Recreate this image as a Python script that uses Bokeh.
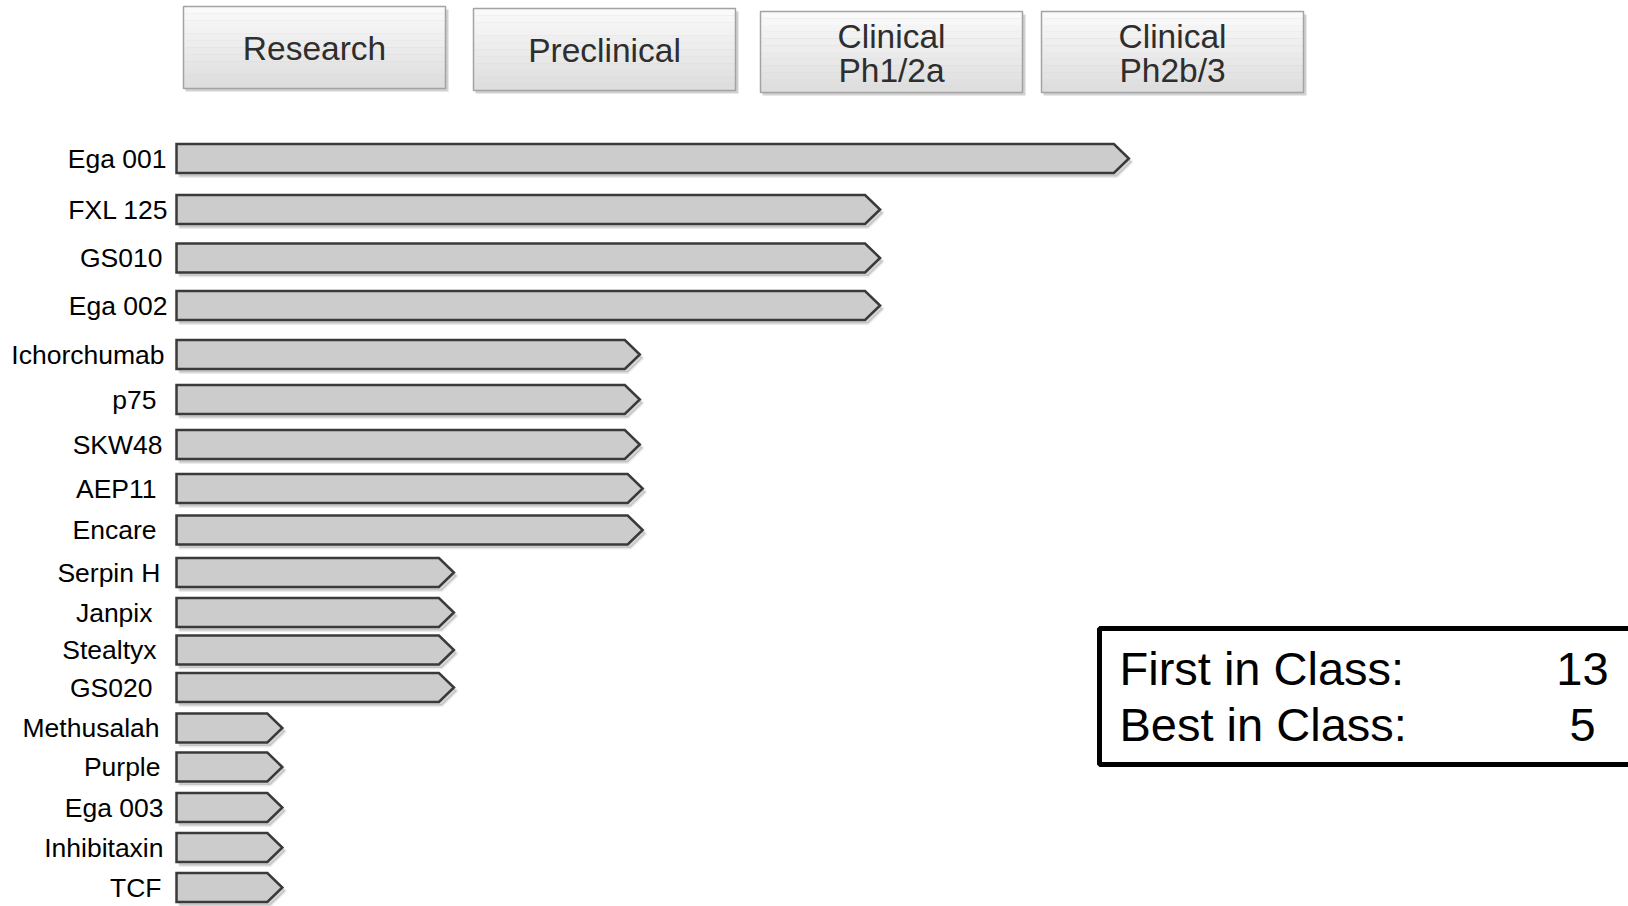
from bokeh.plotting import figure
from bokeh.models import Range1d, ColumnDataSource
from bokeh.embed import file_html
from bokeh.resources import INLINE
from bokeh.core.properties import value

# ---------------- data ----------------
stage_lines = [["Research"], ["Preclinical"], ["Clinical", "Ph1/2a"], ["Clinical", "Ph2b/3"]]
programs = ["Ega 001", "FXL 125", "GS010", "Ega 002", "Ichorchumab", "p75", "SKW48",
            "AEP11", "Encare", "Serpin H", "Janpix", "Stealtyx", "GS020",
            "Methusalah", "Purple", "Ega 003", "Inhibitaxin", "TCF"]
# progress through the pipeline, in stage units (1 = one full stage)
progress = [3.33, 2.46, 2.46, 2.46, 1.62, 1.62, 1.62, 1.63, 1.63,
            0.97, 0.97, 0.97, 0.97, 0.37, 0.37, 0.37, 0.37, 0.37]
summary_labels = ["First in Class:", "Best in Class:"]
summary_values = [13, 5]

# ---------------- layout (screen pixels) ----------------
X0 = 176.0       # pixel of stage-unit 0
U = 286.0        # pixels per stage unit
row_y = [158, 209, 257.5, 305, 354, 399, 444, 488, 529.5, 572, 612, 649.5, 687,
         727.5, 766.5, 807, 847, 887]
label_right = [166, 168, 162, 167, 164, 156, 162, 156, 156, 160, 152, 156, 152,
               159, 160, 163, 163, 161]
bar_half = 14.5
tip_px = 15.0
box_left = [183, 473, 760, 1041]
box_top = [6, 8, 11, 11]
box_bottom = [88, 90, 92, 92]
box_w = 262

FONT = "Liberation Sans"


def px(x):
    return (x - X0) / U


W, H = 1628, 906
p = figure(width=W, height=H, output_backend="svg", toolbar_location=None,
           x_range=Range1d(px(0), px(W)), y_range=Range1d(H, 0),
           min_border=0, outline_line_color=None)
p.axis.visible = False
p.grid.visible = False
p.background_fill_color = "white"
p.border_fill_color = "white"

# ---------------- stage header boxes ----------------
nb = 12
for i, lines in enumerate(stage_lines):
    l, r = px(box_left[i]), px(box_left[i] + box_w)
    t, b = box_top[i], box_bottom[i]
    # shadow
    p.quad(left=px(box_left[i] + 2), right=px(box_left[i] + box_w + 3),
           top=t + 3, bottom=b + 3, fill_color="#9a9a9a", fill_alpha=0.45, line_color=None)
    # gradient fill
    for k in range(nb):
        c0 = int(250 - (250 - 222) * k / (nb - 1))
        col = "#%02x%02x%02x" % (c0, c0, c0)
        p.quad(left=l, right=r, top=t + (b - t) * k / nb, bottom=t + (b - t) * (k + 1) / nb,
               fill_color=col, line_color=None)
    p.quad(left=l, right=r, top=t, bottom=b, fill_color=None,
           line_color="#a3a3a3", line_width=1.5)
    cx = px(box_left[i] + box_w / 2)
    cy = (t + b) / 2 + 1
    if len(lines) == 1:
        ys = [cy]
    else:
        ys = [cy - 16.5, cy + 17]
    p.text(x=[cx] * len(lines), y=ys, text=lines, text_align="center",
           text_baseline="middle", text_font=value(FONT), text_font_size="33.5px",
           text_color="#2e2e2e")

# ---------------- arrow bars ----------------
d = tip_px / U
xs, ys, sxs, sys_ = [], [], [], []
for v, y in zip(progress, row_y):
    bx = [0, v - d, v, v - d, 0]
    by = [y - bar_half, y - bar_half, y, y + bar_half, y + bar_half]
    xs.append(bx)
    ys.append(by)
    sxs.append([x + 3 / U for x in bx])
    sys_.append([yy + 3.5 for yy in by])

p.patches(xs=sxs, ys=sys_, fill_color="#000000", fill_alpha=0.16, line_color="#000000",
          line_alpha=0.08, line_width=3)
p.patches(xs=xs, ys=ys, fill_color="#cccccc", line_color="#3a3a3a", line_width=2.5,
          line_join="miter")

src = ColumnDataSource(dict(x=[px(r) for r in label_right], y=row_y, t=programs))
p.text(x="x", y="y", text="t", source=src, text_align="right", text_baseline="middle",
       text_font=value(FONT), text_font_size="26.5px", text_color="#000000")

# ---------------- summary box ----------------
p.quad(left=px(1099), right=px(1760), top=628, bottom=764, fill_color="white",
       line_color="#000000", line_width=5)
p.text(x=[px(1119)] * 2, y=[668, 724], text=summary_labels, text_align="left",
       text_baseline="middle", text_font=value(FONT), text_font_size="47px",
       text_color="#000000")
p.text(x=[px(1582)] * 2, y=[668, 724], text=[str(v) for v in summary_values],
       text_align="center", text_baseline="middle", text_font=value(FONT),
       text_font_size="47px", text_color="#000000")

open("out.html", "w").write(file_html(p, INLINE))
